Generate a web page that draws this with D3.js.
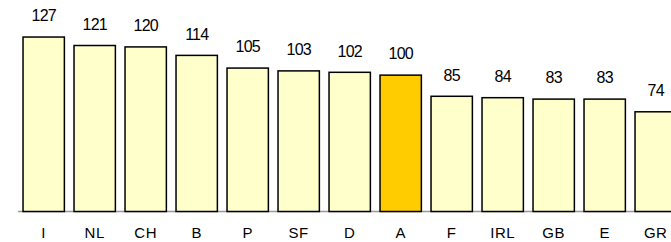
<!DOCTYPE html>
<html>
<head>
<meta charset="utf-8">
<script src="https://cdn.jsdelivr.net/npm/d3@7"></script>
<style>
  body { margin: 0; background: #fff; }
  svg { display: block; font-family: "Liberation Sans", Arial, sans-serif; }
</style>
</head>
<body>
<svg id="chart" width="671" height="242"></svg>
<script>
// country index values, sorted
const countries = ['I', 'NL', 'CH', 'B', 'P', 'SF', 'D', 'A', 'F', 'IRL', 'GB', 'E', 'GR'];
const values = [127, 121, 120, 114, 105, 103, 102, 100, 85, 84, 83, 83, 74];
const highlight = ['A'];

const svg = d3.select('#chart');
const baseY = 211.5;

const x = d3.scaleBand()
  .domain(countries)
  .range([18.2, 681.2])
  .paddingInner(0.16)
  .paddingOuter(0.08);

const y = d3.scaleLinear()
  .domain([0, 127])
  .range([215.4, 36.3]);

// baseline
svg.append('line')
  .attr('x1', 18).attr('x2', 671)
  .attr('y1', baseY).attr('y2', baseY)
  .attr('stroke', '#999').attr('stroke-width', 1.5);

const data = countries.map((c, i) => ({ c, v: values[i] }));

svg.selectAll('rect.bar')
  .data(data)
  .join('rect')
  .attr('class', 'bar')
  .attr('x', d => x(d.c) + 0.75)
  .attr('width', x.bandwidth() - 1.5)
  .attr('y', d => y(d.v) + 0.75)
  .attr('height', d => baseY - y(d.v) - 0.75)
  .attr('fill', d => highlight.includes(d.c) ? '#ffcc00' : '#ffffcc')
  .attr('stroke', '#000')
  .attr('stroke-width', 1.5);

// value labels
svg.selectAll('text.val')
  .data(data)
  .join('text')
  .attr('class', 'val')
  .attr('x', d => x(d.c) + x.bandwidth() / 2)
  .attr('y', d => y(d.v) - 15)
  .attr('text-anchor', 'middle')
  .attr('font-size', 16)
  .attr('letter-spacing', -0.8)
  .text(d => d.v);

// category labels
svg.selectAll('text.cat')
  .data(data)
  .join('text')
  .attr('class', 'cat')
  .attr('x', d => x(d.c) + x.bandwidth() / 2)
  .attr('y', 237.7)
  .attr('text-anchor', 'middle')
  .attr('font-size', 15)
  .attr('letter-spacing', 0.5)
  .text(d => d.c);
</script>
</body>
</html>
